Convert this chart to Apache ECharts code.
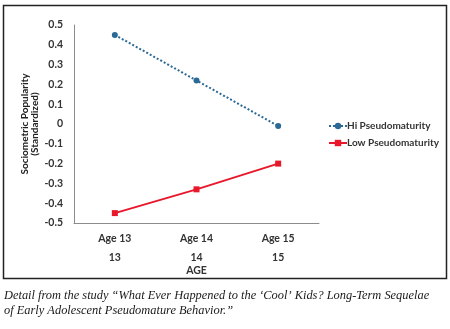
<!DOCTYPE html>
<html><head><meta charset="utf-8">
<script src="https://cdn.jsdelivr.net/npm/echarts@6/dist/echarts.min.js"></script>
<style>html,body{margin:0;padding:0;background:#fff}#c{width:450px;height:329px}</style>
</head><body><div id="c"></div>
<script>
const categories = ['Age 13', 'Age 14', 'Age 15'];
const subLabels = ['13', '14', '15'];
const hiValues = [0.45, 0.22, -0.01];
const lowValues = [-0.45, -0.33, -0.20];
const seriesNames = ['Hi Pseudomaturity', 'Low Pseudomaturity'];
const yTitle = 'Sociometric Popularity\n(Standardized)';
const xTitle = 'AGE';
const caption1 = 'Detail from the study \u201cWhat Ever Happened to the \u2018Cool\u2019 Kids? Long-Term Sequelae';
const caption2 = 'of Early Adolescent Pseudomature Behavior.\u201d';

const chart = echarts.init(document.getElementById('c'), null, {renderer: 'canvas'});
const fontFam = 'Lato, "Open Sans", "Liberation Sans", sans-serif';
chart.setOption({
  animation: false,
  backgroundColor: '#fff',
  grid: {left: 74, right: 131, top: 25, bottom: 106},
  xAxis: {
    type: 'category', data: categories, boundaryGap: true,
    axisLine: {onZero: false, lineStyle: {color: '#8c8c8c', width: 1}},
    axisTick: {show: false},
    axisLabel: {
      margin: 6,
      formatter: (v, i) => '{a|' + v + '}\n{b|' + subLabels[i] + '}',
      rich: {
        a: {fontFamily: fontFam, fontSize: 10.5, fontWeight: 'bold', color: '#333', lineHeight: 19},
        b: {fontFamily: fontFam, fontSize: 10.5, fontWeight: 'bold', color: '#333', lineHeight: 19}
      }
    },
    name: xTitle, nameLocation: 'middle', nameGap: 42, nameMoveOverlap: false,
    nameTextStyle: {fontFamily: fontFam, fontSize: 10.5, fontWeight: 'bold', color: '#333'}
  },
  yAxis: {
    type: 'value', min: -0.5, max: 0.5, interval: 0.1,
    axisLine: {show: true, lineStyle: {color: '#8c8c8c', width: 1}},
    axisTick: {show: false},
    splitLine: {show: false},
    axisLabel: {
      margin: 11, fontFamily: fontFam, fontSize: 10.5, fontWeight: 'bold', color: '#333',
      formatter: v => { const r = Math.round(v * 10) / 10; return r === 0 ? '0' : String(r); }
    },
    name: yTitle, nameLocation: 'middle', nameGap: 34, nameRotate: 90, nameMoveOverlap: false,
    nameTextStyle: {fontFamily: fontFam, fontSize: 10, fontWeight: 'bold', color: '#222', lineHeight: 10}
  },
  legend: {
    orient: 'vertical', left: 323, top: 116, itemWidth: 18, itemHeight: 8, itemGap: 7,
    textStyle: {fontFamily: fontFam, fontSize: 10, fontWeight: 'bold', color: '#333', padding: [0, 0, 0, -5]},
    data: seriesNames
  },
  series: [
    {
      name: seriesNames[0], type: 'line', data: hiValues,
      symbol: 'circle', symbolSize: 6,
      lineStyle: {color: '#2b6a96', width: 2, type: [2, 2]},
      itemStyle: {color: '#2b6a96'}
    },
    {
      name: seriesNames[1], type: 'line', data: lowValues,
      symbol: 'rect', symbolSize: 6,
      lineStyle: {color: '#e8182b', width: 2},
      itemStyle: {color: '#e8182b'}
    }
  ],
  graphic: [
    {type: 'rect', shape: {x: 3.5, y: 5.5, width: 443, height: 273}, style: {fill: 'none', stroke: '#222', lineWidth: 1.5}, z: 100},
    {type: 'text', left: 4, top: 290, style: {text: caption1, font: 'italic 12.4px "Liberation Serif", "DejaVu Serif", serif', fill: '#1a1a1a'}},
    {type: 'text', left: 4, top: 305, style: {text: caption2, font: 'italic 12.4px "Liberation Serif", "DejaVu Serif", serif', fill: '#1a1a1a'}}
  ]
});
</script></body></html>
